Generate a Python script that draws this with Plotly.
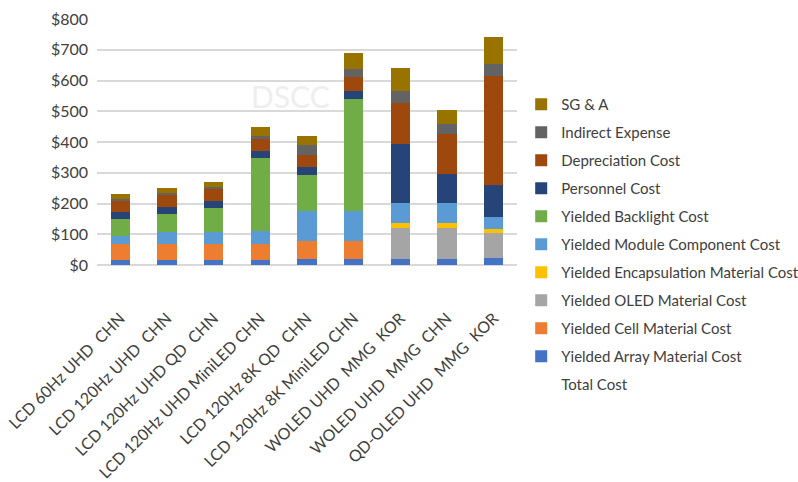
import plotly.graph_objects as go

categories = ["LCD 60Hz UHD  CHN", "LCD 120Hz UHD  CHN", "LCD 120Hz UHD QD  CHN",
              "LCD 120Hz UHD MiniLED CHN", "LCD 120Hz 8K QD  CHN", "LCD 120Hz 8K MiniLED CHN",
              "WOLED UHD  MMG  KOR", "WOLED UHD  MMG  CHN", "QD-OLED UHD  MMG  KOR"]

array_cost = [16, 16, 16, 16, 21, 21, 21, 21, 23]
cell_cost = [53, 53, 53, 53, 56, 56, 0, 0, 0]
oled_cost = [0, 0, 0, 0, 0, 0, 98, 98, 82]
encaps_cost = [0, 0, 0, 0, 0, 0, 17, 17, 11]
module_cost = [25, 38, 38, 43, 98, 98, 65, 65, 39]
backlight_cost = [55, 60, 78, 235, 118, 366, 0, 0, 0]
personnel_cost = [23, 21, 22, 23, 26, 24, 193, 96, 106]
depreciation_cost = [38, 42, 41, 39, 40, 45, 132, 129, 353]
indirect_expense = [6, 5, 6, 9, 30, 29, 39, 32, 39]
sga = [15, 16, 17, 31, 31, 52, 77, 46, 89]

series = [
    ("Yielded Array Material Cost", array_cost, "#4472C4"),
    ("Yielded Cell Material Cost", cell_cost, "#ED7D31"),
    ("Yielded OLED Material Cost", oled_cost, "#A5A5A5"),
    ("Yielded Encapsulation Material Cost", encaps_cost, "#FFC000"),
    ("Yielded Module Component Cost", module_cost, "#5B9BD5"),
    ("Yielded Backlight Cost", backlight_cost, "#70AD47"),
    ("Personnel Cost", personnel_cost, "#264478"),
    ("Depreciation Cost", depreciation_cost, "#9E480E"),
    ("Indirect Expense", indirect_expense, "#636363"),
    ("SG & A", sga, "#997300"),
]

total_cost = [sum(v[i] for _, v, _ in series) for i in range(len(categories))]

fig = go.Figure()
fig.add_trace(go.Scatter(x=categories, y=total_cost, name="Total Cost", mode="lines",
                         line=dict(width=0, color="rgba(0,0,0,0)"), legendgroup="total",
                         legendrank=100, hoverinfo="skip"))
n = len(series)
for i, (name, vals, color) in enumerate(series):
    fig.add_trace(go.Bar(x=categories, y=vals, name=name, marker_color=color,
                         marker_line_width=0, legendgroup=name, legendrank=n - i))

fig.add_annotation(text="DSCC", x=0.46, y=0.688, xref="paper", yref="paper",
                   xanchor="center", yanchor="middle",
                   showarrow=False, font=dict(family="Lato", size=30, color="#EEEEEE"))

fig.update_layout(
    barmode="stack",
    bargap=0.59,
    width=798, height=482,
    margin=dict(l=97, r=281, t=19, b=217, autoexpand=False),
    paper_bgcolor="white", plot_bgcolor="white",
    font=dict(family="Lato", color="#404040"),
    legend=dict(traceorder="grouped", tracegroupgap=5.5, x=1.01, xanchor="left",
                y=0.72, yanchor="top", font=dict(size=15, color="#404040"),
                bgcolor="rgba(0,0,0,0)", maxheight=420),
    showlegend=True,
)
fig.update_yaxes(range=[0, 800], dtick=100, tickprefix="$", showgrid=True,
                 gridcolor="#D9D9D9", gridwidth=1.5, zeroline=True, zerolinecolor="#D9D9D9",
                 zerolinewidth=1.5, tickfont=dict(size=16, color="#404040"), ticks="",
                 ticklabelstandoff=8, automargin=False)
fig.update_xaxes(tickangle=-45, tickfont=dict(size=16, color="#404040"), showline=False,
                 ticks="", ticklabelstandoff=40, automargin=False)

fig.write_html("out.html")
